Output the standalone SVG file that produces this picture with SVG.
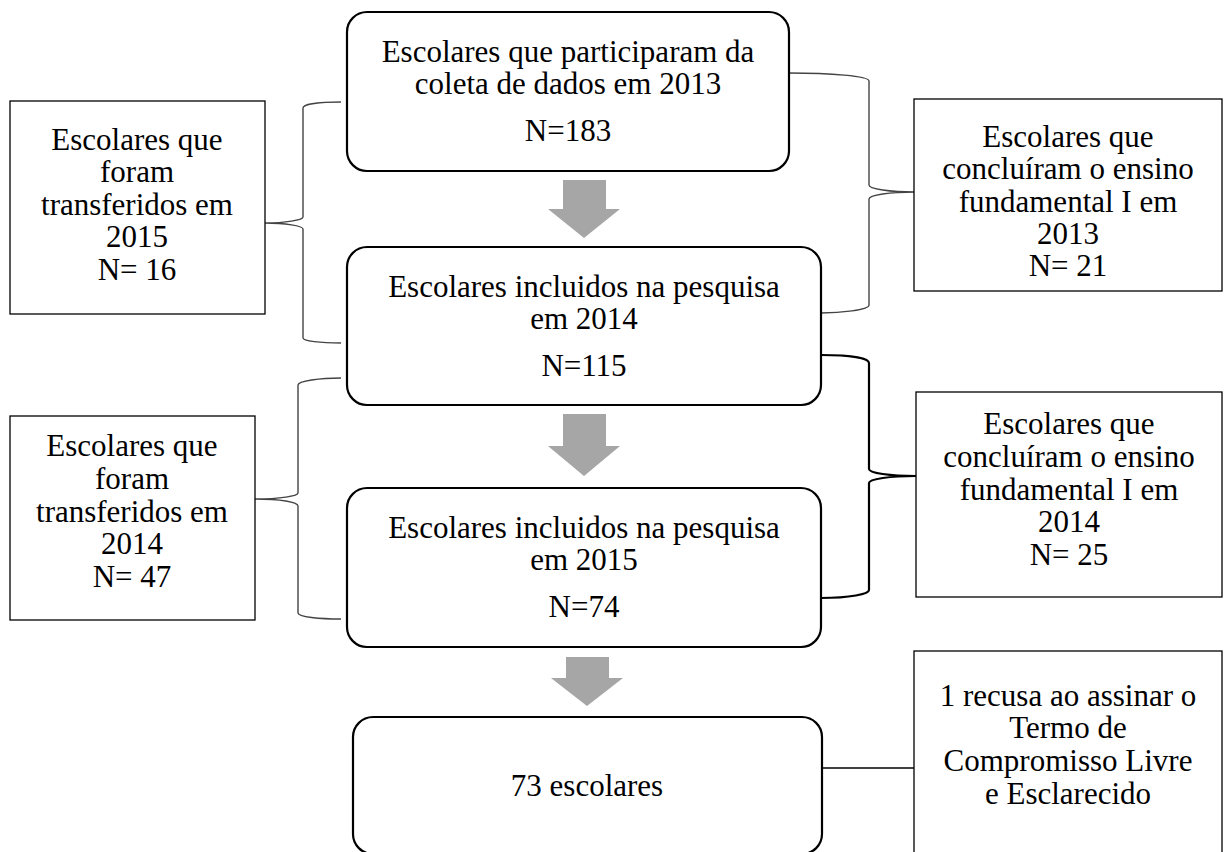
<svg xmlns="http://www.w3.org/2000/svg" width="1224" height="852" viewBox="0 0 1224 852">
<style>
.main{fill:#fff;stroke:#000;stroke-width:2.2}
.side{fill:#fff;stroke:#000;stroke-width:1.3}
.t{font-family:"Liberation Serif","Times New Roman",serif;font-size:31px;fill:#000;text-anchor:middle}
.br{fill:none;stroke:#444;stroke-width:1.4}
.brk{fill:none;stroke:#000;stroke-width:2.2}
.arr{fill:#a6a6a6}
.ln{fill:none;stroke:#000;stroke-width:1.6}
</style>
<rect width="1224" height="852" fill="#fff"/>
<g id="connectors">
<path class="br" d="M341,102 C320,102 303,104 303,108 L303,217 C303,220 285,223 265,223 C285,223 303,226 303,229 L303,338 C303,341 320,343 341,343"/>
<path class="br" d="M789,73 C830,73 869,76 869,81 L869,185 C869,189 890,192 915,192 C890,192 869,195 869,199 L869,305 C869,310 840,313 821,313"/>
<path class="br" d="M341,378 C320,378 298,381 298,385 L298,493 C298,496 280,499 255,499 C280,499 298,502 298,506 L298,613 C298,617 320,619 341,619"/>
<path class="brk" d="M821,355 C850,355 869,358 869,363 L869,469 C869,473 890,476 916,476 C890,476 869,479 869,483 L869,590 C869,594 850,598 821,598"/>
<line class="ln" x1="822" y1="768" x2="914" y2="768"/>
<path class="arr" d="M563,180 H606 V209 H620 L584,238 L548,209 H563 Z"/>
<path class="arr" d="M563,414 H606 V446 H620 L584,476 L548,446 H563 Z"/>
<path class="arr" d="M566,657 H609 V678 H623 L587,706 L551,678 H566 Z"/>
</g>
<g id="box1">
<rect class="main" x="347" y="12" width="442" height="159" rx="20"/>
<text class="t" x="568" y="62">Escolares que participaram da</text>
<text class="t" x="568" y="94">coleta de dados em 2013</text>
<text class="t" x="568" y="141">N=183</text>
</g>
<g id="box2">
<rect class="main" x="347" y="247" width="474" height="158" rx="20"/>
<text class="t" x="584" y="297">Escolares incluidos na pesquisa</text>
<text class="t" x="584" y="329">em 2014</text>
<text class="t" x="584" y="376">N=115</text>
</g>
<g id="box3">
<rect class="main" x="347" y="488" width="474" height="159" rx="20"/>
<text class="t" x="584" y="538">Escolares incluidos na pesquisa</text>
<text class="t" x="584" y="570">em 2015</text>
<text class="t" x="584" y="617">N=74</text>
</g>
<g id="box4">
<rect class="main" x="353" y="717" width="469" height="137" rx="20"/>
<text class="t" x="587" y="796">73 escolares</text>
</g>
<g id="left1">
<rect class="side" x="10" y="101" width="255" height="213"/>
<text class="t" x="137" y="150">Escolares que</text>
<text class="t" x="137" y="182">foram</text>
<text class="t" x="137" y="215">transferidos em</text>
<text class="t" x="137" y="247">2015</text>
<text class="t" x="137" y="280">N= 16</text>
</g>
<g id="left2">
<rect class="side" x="10" y="416" width="245" height="204"/>
<text class="t" x="132" y="456">Escolares que</text>
<text class="t" x="132" y="489">foram</text>
<text class="t" x="132" y="522">transferidos em</text>
<text class="t" x="132" y="554">2014</text>
<text class="t" x="132" y="587">N= 47</text>
</g>
<g id="right1">
<rect class="side" x="914" y="99" width="308" height="192"/>
<text class="t" x="1068" y="147">Escolares que</text>
<text class="t" x="1068" y="179">concluíram o ensino</text>
<text class="t" x="1068" y="212">fundamental I em</text>
<text class="t" x="1068" y="244">2013</text>
<text class="t" x="1068" y="276">N= 21</text>
</g>
<g id="right2">
<rect class="side" x="916" y="392" width="306" height="205"/>
<text class="t" x="1069" y="434">Escolares que</text>
<text class="t" x="1069" y="467">concluíram o ensino</text>
<text class="t" x="1069" y="500">fundamental I em</text>
<text class="t" x="1069" y="532">2014</text>
<text class="t" x="1069" y="565">N= 25</text>
</g>
<g id="right3">
<rect class="side" x="914" y="651" width="308" height="210"/>
<text class="t" x="1068" y="706">1 recusa ao assinar o</text>
<text class="t" x="1068" y="738">Termo de</text>
<text class="t" x="1068" y="771">Compromisso Livre</text>
<text class="t" x="1068" y="804">e Esclarecido</text>
</g>
</svg>
